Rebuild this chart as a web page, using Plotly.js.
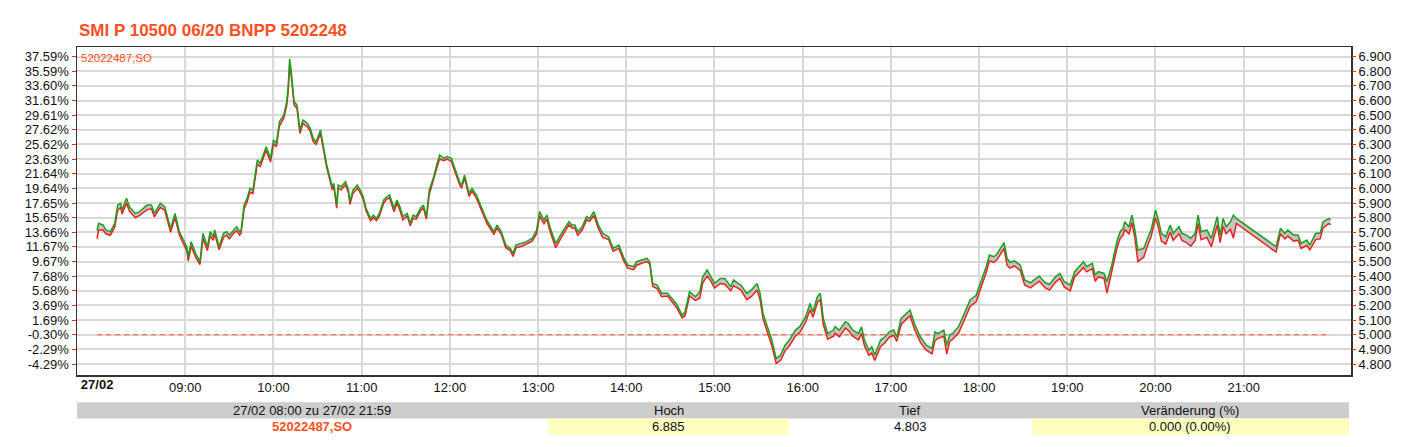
<!DOCTYPE html>
<html><head><meta charset="utf-8">
<script src="https://cdn.plot.ly/plotly-3.0.1.min.js"></script>
<style>html,body{margin:0;padding:0;background:#fff}#chart{width:1408px;height:447px}</style>
</head><body><div id="chart"></div>
<script>
const chartTitle = "SMI P 10500 06/20 BNPP 5202248";
const seriesName = "52022487,SO";
const day = "2020-02-27";
const times = [
"08:00","08:01","08:04","08:06","08:09","08:11","08:12","08:14","08:16","08:17",
"08:20","08:22","08:26","08:29","08:34","08:37","08:39","08:43","08:46","08:50",
"08:53","08:56","09:01","09:02","09:04","09:07","09:10","09:12","09:15","09:17",
"09:19","09:20","09:23","09:26","09:28","09:30","09:33","09:35","09:37","09:38",
"09:40","09:42","09:44","09:46","09:49","09:51","09:53","09:55","09:58","10:00",
"10:02","10:04","10:07","10:09","10:10","10:11","10:12","10:14","10:16","10:18",
"10:20","10:23","10:25","10:27","10:29","10:32","10:34","10:36","10:38","10:40",
"10:41","10:43","10:44","10:46","10:49","10:51","10:52","10:54","10:57","10:59",
"11:01","11:03","11:06","11:08","11:10","11:12","11:15","11:17","11:19","11:22",
"11:24","11:26","11:28","11:31","11:33","11:35","11:37","11:40","11:42","11:44",
"11:46","11:49","11:51","11:53","11:56","11:58","12:01","12:03","12:07","12:08",
"12:10","12:13","12:15","12:18","12:22","12:25","12:30","12:32","12:35","12:38",
"12:41","12:43","12:45","12:49","12:52","12:56","12:59","13:01","13:04","13:06",
"13:08","13:12","13:15","13:18","13:21","13:23","13:25","13:27","13:30","13:33",
"13:35","13:38","13:41","13:44","13:48","13:51","13:55","13:58","14:01","14:05",
"14:07","14:11","14:14","14:16","14:18","14:21","14:24","14:28","14:31","14:34",
"14:38","14:40","14:43","14:47","14:50","14:52","14:55","14:57","15:00","15:04",
"15:07","15:11","15:13","15:16","15:18","15:22","15:25","15:29","15:31","15:33",
"15:36","15:39","15:42","15:45","15:48","15:51","15:55","15:58","16:02","16:05",
"16:07","16:10","16:12","16:14","16:17","16:21","16:22","16:25","16:29","16:31",
"16:34","16:38","16:40","16:42","16:45","16:47","16:49","16:53","16:56","16:59",
"17:02","17:04","17:07","17:11","17:13","17:16","17:20","17:24","17:28","17:30",
"17:32","17:36","17:38","17:40","17:42","17:46","17:49","17:54","17:58","18:01",
"18:05","18:07","18:10","18:12","18:14","18:17","18:19","18:21","18:24","18:28",
"18:31","18:35","18:38","18:41","18:45","18:48","18:52","18:55","18:58","19:02",
"19:05","19:09","19:11","19:13","19:17","19:19","19:21","19:25","19:27","19:30",
"19:34","19:36","19:38","19:39","19:42","19:44","19:46","19:48","19:52","19:55",
"19:57","20:00","20:02","20:04","20:07","20:10","20:12","20:16","20:18","20:21",
"20:24","20:27","20:29","20:31","20:35","20:38","20:42","20:44","20:46","20:48",
"20:51","20:53","20:55","21:22","21:25","21:28","21:30","21:34","21:37","21:39",
"21:43","21:45","21:49","21:52","21:54","21:58","21:59"
];
const greenValues = [
5.713,5.761,5.750,5.716,5.704,5.750,5.761,5.886,5.898,5.852,
5.932,5.875,5.829,5.841,5.886,5.886,5.829,5.898,5.875,5.727,
5.829,5.704,5.602,5.533,5.636,5.556,5.499,5.693,5.602,5.704,
5.670,5.716,5.602,5.693,5.704,5.681,5.716,5.738,5.704,5.716,
5.886,5.932,6.000,5.989,6.194,6.171,6.228,6.285,6.205,6.331,
6.308,6.456,6.502,6.593,6.695,6.885,6.809,6.593,6.570,6.399,
6.467,6.445,6.410,6.342,6.319,6.399,6.285,6.171,6.091,6.012,
6.034,5.886,6.023,6.012,6.046,5.989,5.909,5.989,6.023,5.989,
5.943,5.864,5.795,5.818,5.795,5.829,5.921,5.943,5.955,5.864,
5.921,5.875,5.807,5.829,5.761,5.818,5.807,5.864,5.886,5.807,
5.989,6.080,6.160,6.228,6.205,6.217,6.205,6.148,6.034,6.023,
6.091,5.966,6.000,5.955,5.852,5.784,5.704,5.750,5.704,5.613,
5.590,5.556,5.613,5.624,5.636,5.658,5.715,5.841,5.784,5.818,
5.738,5.624,5.681,5.727,5.772,5.750,5.750,5.704,5.738,5.807,
5.795,5.841,5.750,5.693,5.670,5.590,5.613,5.533,5.476,5.465,
5.499,5.510,5.522,5.499,5.351,5.340,5.283,5.283,5.248,5.214,
5.134,5.157,5.294,5.260,5.294,5.396,5.442,5.408,5.351,5.385,
5.385,5.328,5.374,5.351,5.340,5.283,5.305,5.351,5.283,5.146,
5.055,4.964,4.837,4.861,4.929,4.964,5.032,5.055,5.123,5.214,
5.157,5.260,5.283,5.112,5.009,5.032,5.055,5.032,5.089,5.077,
5.032,5.009,5.055,4.964,4.895,4.918,4.861,4.964,4.986,5.020,
5.032,4.986,5.112,5.146,5.169,5.077,4.986,4.929,4.907,5.020,
5.009,5.032,4.929,4.998,5.009,5.055,5.123,5.240,5.270,5.351,
5.470,5.545,5.533,5.550,5.585,5.630,5.522,5.495,5.505,5.475,
5.374,5.355,5.380,5.400,5.355,5.345,5.396,5.419,5.362,5.340,
5.431,5.476,5.499,5.465,5.488,5.408,5.431,5.419,5.362,5.465,
5.647,5.704,5.727,5.772,5.738,5.818,5.715,5.579,5.590,5.670,
5.715,5.852,5.784,5.693,5.670,5.750,5.693,5.738,5.693,5.681,
5.659,5.693,5.818,5.704,5.715,5.659,5.807,5.681,5.795,5.738,
5.772,5.818,5.795,5.602,5.727,5.693,5.715,5.681,5.681,5.624,
5.647,5.613,5.693,5.693,5.772,5.795,5.784
];
const redValues = [
5.655,5.715,5.715,5.690,5.680,5.720,5.735,5.850,5.870,5.825,
5.900,5.845,5.800,5.815,5.855,5.860,5.805,5.870,5.850,5.700,
5.800,5.680,5.575,5.505,5.605,5.530,5.480,5.660,5.575,5.675,
5.645,5.690,5.580,5.665,5.680,5.655,5.695,5.710,5.680,5.695,
5.860,5.905,5.975,5.965,6.165,6.150,6.200,6.260,6.180,6.305,
6.285,6.425,6.480,6.565,6.660,6.840,6.775,6.570,6.545,6.375,
6.445,6.420,6.390,6.320,6.300,6.375,6.265,6.150,6.070,5.990,
6.015,5.865,6.000,5.990,6.025,5.970,5.890,5.965,6.000,5.970,
5.925,5.845,5.780,5.800,5.780,5.810,5.900,5.925,5.935,5.840,
5.900,5.850,5.785,5.810,5.745,5.795,5.790,5.845,5.865,5.790,
5.960,6.055,6.135,6.200,6.190,6.200,6.185,6.125,6.015,6.005,
6.070,5.945,5.980,5.935,5.835,5.765,5.685,5.730,5.685,5.595,
5.575,5.535,5.595,5.605,5.620,5.640,5.690,5.810,5.760,5.790,
5.710,5.595,5.650,5.705,5.750,5.730,5.730,5.680,5.715,5.785,
5.775,5.815,5.725,5.665,5.650,5.570,5.590,5.510,5.455,5.445,
5.475,5.490,5.500,5.480,5.330,5.315,5.260,5.265,5.225,5.190,
5.115,5.130,5.265,5.235,5.250,5.355,5.400,5.375,5.320,5.350,
5.345,5.300,5.335,5.320,5.305,5.240,5.260,5.305,5.240,5.110,
5.020,4.925,4.803,4.825,4.890,4.925,4.990,5.015,5.085,5.170,
5.120,5.220,5.240,5.070,4.970,4.990,5.010,4.985,5.045,5.030,
4.990,4.965,5.010,4.925,4.860,4.875,4.825,4.920,4.945,4.985,
4.995,4.955,5.070,5.110,5.130,5.040,4.950,4.895,4.870,4.960,
4.975,4.990,4.870,4.955,4.970,5.010,5.080,5.195,5.225,5.310,
5.430,5.505,5.495,5.510,5.545,5.590,5.475,5.455,5.470,5.440,
5.340,5.320,5.345,5.365,5.320,5.305,5.360,5.385,5.325,5.300,
5.395,5.440,5.460,5.430,5.450,5.365,5.395,5.385,5.285,5.420,
5.600,5.660,5.680,5.720,5.690,5.765,5.660,5.500,5.530,5.620,
5.670,5.800,5.730,5.640,5.620,5.700,5.645,5.690,5.645,5.630,
5.605,5.645,5.760,5.650,5.665,5.600,5.750,5.630,5.740,5.690,
5.720,5.660,5.760,5.565,5.690,5.655,5.675,5.640,5.645,5.590,
5.610,5.580,5.650,5.655,5.730,5.760,5.750
];
const referenceLevel = 5.000;
const priceTicks = [4.8,4.9,5.0,5.1,5.2,5.3,5.4,5.5,5.6,5.7,5.8,5.9,6.0,6.1,6.2,6.3,6.4,6.5,6.6,6.7,6.8,6.9];
const rightTickLabels = ["4.800","4.900","5.000","5.100","5.200","5.300","5.400","5.500","5.600","5.700","5.800","5.900","6.000","6.100","6.200","6.300","6.400","6.500","6.600","6.700","6.800","6.900"];
const leftTickLabels = ["-4.29%","-2.29%","-0.30%","1.69%","3.69%","5.68%","7.68%","9.67%","11.67%","13.66%","15.65%","17.65%","19.64%","21.64%","23.63%","25.62%","27.62%","29.61%","31.61%","33.60%","35.59%","37.59%"];
const hourTicks = ["09:00","10:00","11:00","12:00","13:00","14:00","15:00","16:00","17:00","18:00","19:00","20:00","21:00"];
const dateTickTime = "08:00";
const dateTickLabel = "27/02";
const tableHeaders = ["27/02 08:00 zu 27/02 21:59","Hoch","Tief","Veränderung (%)"];
const tableValues = ["52022487,SO","6.885","4.803","0.000 (0.00%)"];

const FONT = 'Arial, "Liberation Sans", sans-serif';
const ORANGE = '#ff4f22';
const GRID = '#d9d9d9';
const toDate = t => day + ' ' + t;
const xs = times.map(toDate);
const xRange = [day + ' 07:46:20', day + ' 22:13:00'];
const yRange = [4.725, 6.966];

const traces = [
  {x:[xs[0], xs[xs.length-1]], y:[referenceLevel, referenceLevel], mode:'lines',
   line:{color:ORANGE, width:1, dash:'5px,4px'}, hoverinfo:'skip'},
  {x:xs, y:redValues, mode:'lines', line:{color:'#e82420', width:1.5}, hoverinfo:'skip'},
  {x:xs, y:greenValues, mode:'lines', line:{color:'#1e9e1e', width:1.5},
   fill:'tonexty', fillcolor:'rgba(165,165,165,0.65)', hoverinfo:'skip'},
  {x:[toDate(dateTickTime)], y:[referenceLevel], xaxis:'x2', yaxis:'y2', mode:'markers',
   marker:{opacity:0, size:1}, hoverinfo:'skip'}
];

const L = 77, W = 1274, T = 47, H = 328;
const px = x => (x - L) / W;
const py = y => (T + H - y) / H;
const colEdges = [77, 547.7, 788.7, 1031.7, 1349];
const shapes = [
  {type:'rect', xref:'paper', yref:'paper', x0:px(colEdges[0]), x1:px(colEdges[4]), y0:py(402.3), y1:py(418.5), fillcolor:'#cdcdcd', line:{width:0}},
  {type:'rect', xref:'paper', yref:'paper', x0:px(colEdges[1]), x1:px(colEdges[2]), y0:py(418.5), y1:py(434.7), fillcolor:'#ffffc0', line:{width:0}},
  {type:'rect', xref:'paper', yref:'paper', x0:px(colEdges[3]), x1:px(colEdges[4]), y0:py(418.5), y1:py(434.7), fillcolor:'#ffffc0', line:{width:0}}
];
const annotations = [
  {xref:'paper', yref:'paper', x:px(79), y:py(58), xanchor:'left', yanchor:'middle', showarrow:false,
   text:seriesName, font:{family:FONT, size:11.5, color:ORANGE}}
];
const centers = [312, 668.5, 910, 1190];
tableHeaders.forEach((h, i) => annotations.push({xref:'paper', yref:'paper', x:px(centers[i]), y:py(410.5),
  xanchor:'center', yanchor:'middle', showarrow:false, text:h, font:{family:FONT, size:13, color:'#111'}}));
tableValues.forEach((v, i) => annotations.push({xref:'paper', yref:'paper', x:px(centers[i]), y:py(426.5),
  xanchor:'center', yanchor:'middle', showarrow:false, text: i === 0 ? '<b>' + v + '</b>' : v,
  font:{family:FONT, size:13, color: i === 0 ? ORANGE : '#111'}}));

const layout = {
  width:1408, height:447,
  margin:{l:77, r:57, t:47, b:72, pad:0},
  paper_bgcolor:'#fff', plot_bgcolor:'#fff',
  showlegend:false,
  font:{family:FONT, size:13, color:'#111'},
  title:{text:'<b>' + chartTitle + '</b>', font:{family:FONT, size:17, color:ORANGE},
         x:79/1408, xanchor:'left', xref:'container', y:1 - 30.5/447, yanchor:'middle', yref:'container'},
  xaxis:{type:'date', range:xRange, tickvals:hourTicks.map(toDate), ticktext:hourTicks,
         showgrid:true, gridcolor:GRID, gridwidth:2, showline:true, linecolor:'#333', linewidth:1.5, mirror:true,
         ticks:'', zeroline:false, tickfont:{family:FONT, size:13, color:'#111'}, fixedrange:true},
  xaxis2:{type:'date', overlaying:'x', anchor:'y2', side:'bottom', range:xRange,
          tickvals:[toDate(dateTickTime)], ticktext:['<b>' + dateTickLabel + '</b>'],
          showgrid:false, showline:false, zeroline:false, ticks:'', tickfont:{family:FONT, size:13, color:'#111'}},
  yaxis:{range:yRange, tickvals:priceTicks, ticktext:leftTickLabels,
         showgrid:true, gridcolor:GRID, gridwidth:2, showline:true, linecolor:'#333', linewidth:1.5, mirror:true,
         ticks:'outside', ticklen:4, tickwidth:1, tickcolor:'#ff2a10', zeroline:false,
         tickfont:{family:FONT, size:13, color:'#111'}, fixedrange:true},
  yaxis2:{range:yRange, overlaying:'y', anchor:'x2', side:'right', tickvals:priceTicks, ticktext:rightTickLabels,
          showgrid:false, showline:false, zeroline:false, ticks:'outside', ticklen:4, tickwidth:1, tickcolor:'#ff2a10',
          tickfont:{family:FONT, size:13, color:'#111'}},
  shapes:shapes,
  annotations:annotations
};

Plotly.newPlot('chart', traces, layout, {displayModeBar:false, staticPlot:true});
</script>
</body></html>
